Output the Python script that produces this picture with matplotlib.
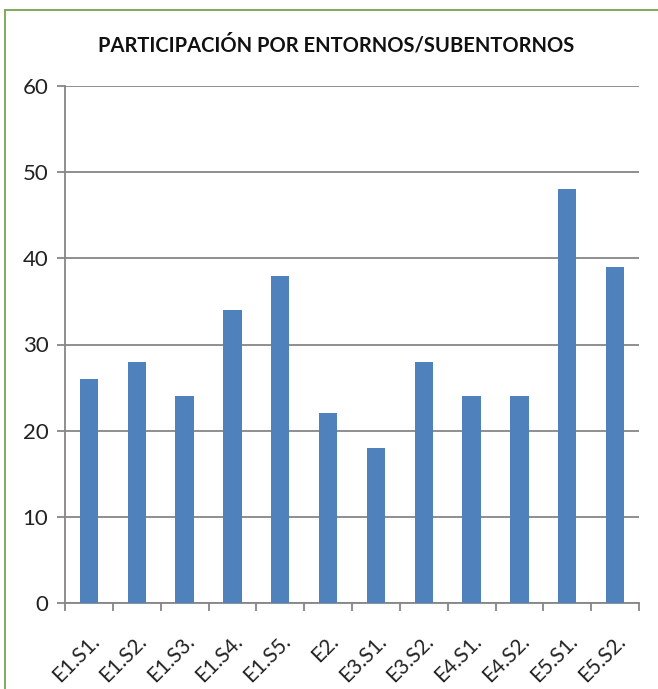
import matplotlib
matplotlib.use("Agg")
import matplotlib.pyplot as plt
from matplotlib.patches import Rectangle

categories = ["E1.S1.", "E1.S2.", "E1.S3.", "E1.S4.", "E1.S5.", "E2.",
              "E3.S1.", "E3.S2.", "E4.S1.", "E4.S2.", "E5.S1.", "E5.S2."]
values = [26, 28, 24, 34, 38, 22, 18, 28, 24, 24, 48, 39]
title = "PARTICIPACIÓN POR ENTORNOS/SUBENTORNOS"

plt.rcParams['font.family'] = ['Lato', 'DejaVu Sans']

W, H = 658, 689
fig = plt.figure(figsize=(W/100, H/100), dpi=100)
ax = fig.add_axes([65/W, 1-603/H, (639-65)/W, (603-86)/H])

grey = "#868686"
x = list(range(len(categories)))
ax.bar(x, values, width=0.38, color="#4F81BD", zorder=3)
ax.set_xlim(-0.5, len(categories)-0.5)
ax.set_ylim(0, 60)
ax.set_yticks(range(0, 61, 10))
ax.yaxis.grid(True, color=grey, linewidth=1.3, zorder=0)
ax.set_xticks([i - 0.5 for i in range(len(categories)+1)])
ax.set_xticklabels([])
ax.set_xticks(x, minor=True)
ax.set_xticklabels(categories, minor=True, rotation=45, ha="right",
                   rotation_mode="anchor", fontsize=15, color="#222222")
ax.tick_params(axis="x", which="minor", length=0, pad=20)
ax.tick_params(axis="x", which="major", length=6, color=grey, width=1.3)
ax.tick_params(axis="y", length=6, color=grey, width=1.3, labelsize=16,
               labelcolor="#222222", pad=6)
for s in ["top", "right"]:
    ax.spines[s].set_visible(False)
for s in ["left", "bottom"]:
    ax.spines[s].set_color(grey)
    ax.spines[s].set_linewidth(1.3)

fig.text(336/W, 1-45/H, title, ha="center", va="center",
         fontsize=14.5, fontweight="bold", color="#111111")

fig.patches.append(Rectangle((5/W, -0.05), 1.2, 1-10/H+0.05,
                             transform=fig.transFigure, fill=False,
                             edgecolor="#77A050", linewidth=1.3))

fig.savefig("out.png", dpi=100)
